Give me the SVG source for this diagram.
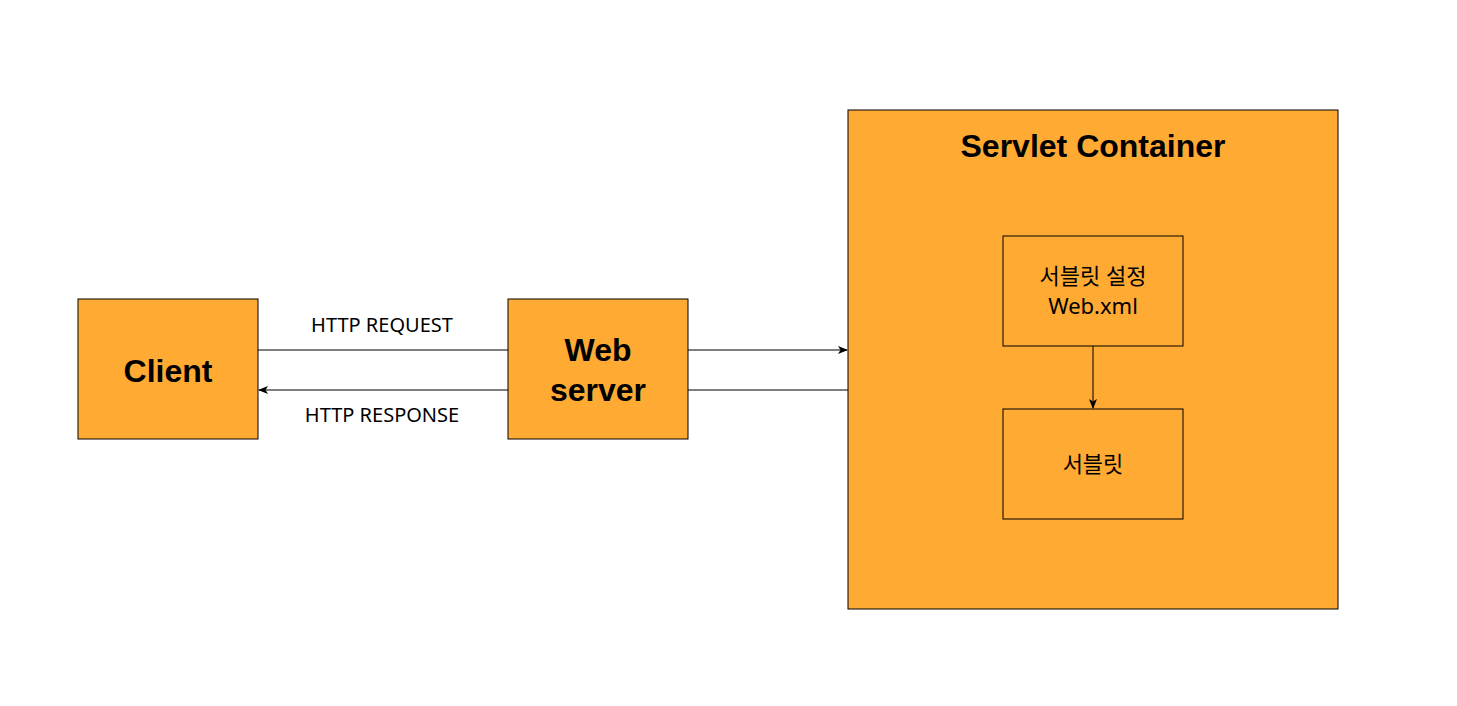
<svg xmlns="http://www.w3.org/2000/svg" width="1457" height="706" viewBox="0 0 1457 706">
<style>
.box{fill:#FFAA33;stroke:#000;stroke-width:1}
.b{font-family:"Liberation Sans",Arial,sans-serif;font-weight:bold;fill:#000;text-anchor:middle}
.n{font-family:"Noto Sans","Noto Sans CJK KR",sans-serif;fill:#000;text-anchor:middle}
.l{stroke:#000;stroke-width:1;fill:none}
</style>
<defs><marker id="a" markerWidth="10" markerHeight="8" refX="9" refY="4" orient="auto" markerUnits="userSpaceOnUse"><path d="M0,0 L10,4 L0,8 L2.5,4 Z" fill="#000"/></marker></defs>
<rect width="1457" height="706" fill="#fff"/>
<g id="client"><rect class="box" x="78" y="299" width="180" height="140"/><text class="b" x="168" y="382" font-size="32">Client</text></g>
<g id="webserver"><rect class="box" x="508" y="299" width="180" height="140"/><text class="b" x="598" y="361" font-size="32">Web</text><text class="b" x="598" y="401" font-size="32">server</text></g>
<g id="container"><rect class="box" x="848" y="110" width="490" height="499"/><text class="b" x="1093" y="157" font-size="32">Servlet Container</text></g>
<g id="config"><rect class="box" x="1003" y="236" width="180" height="110"/><text class="n" x="1093" y="284" font-size="22">서블릿 설정</text><text class="n" x="1093" y="314" font-size="22">Web.xml</text></g>
<g id="servlet"><rect class="box" x="1003" y="409" width="180" height="110"/><text class="n" x="1093" y="472" font-size="22">서블릿</text></g>
<g id="connectors">
<line class="l" x1="258" y1="350" x2="508" y2="350"/>
<line class="l" x1="508" y1="390" x2="259" y2="390" marker-end="url(#a)"/>
<line class="l" x1="688" y1="350" x2="847" y2="350" marker-end="url(#a)"/>
<line class="l" x1="848" y1="390" x2="688" y2="390"/>
<line class="l" x1="1093" y1="346" x2="1093" y2="408" marker-end="url(#a)"/>
<text class="n" x="382" y="332" font-size="20">HTTP REQUEST</text>
<text class="n" x="382" y="422" font-size="20">HTTP RESPONSE</text>
</g>
</svg>
